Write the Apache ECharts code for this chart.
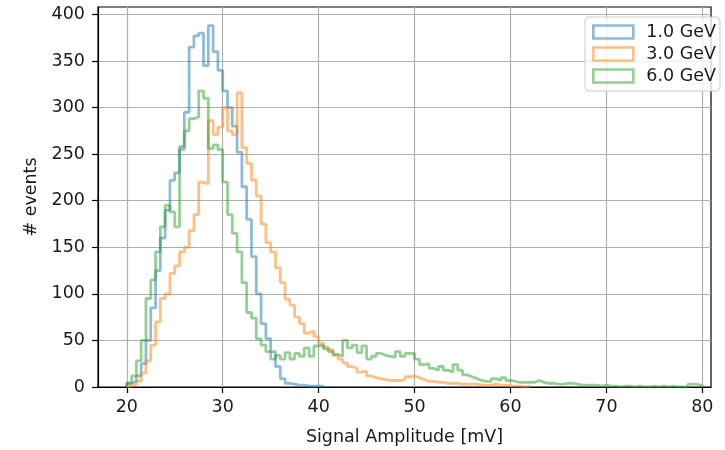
<!DOCTYPE html>
<html><head><meta charset="utf-8">
<script src="https://cdn.jsdelivr.net/npm/echarts@6/dist/echarts.min.js"></script>
<style>html,body{margin:0;padding:0;background:#fff}#c{width:725px;height:450px}</style>
</head><body><div id="c"></div>
<script>
// Histogram bins: start 20 mV, width 0.5 mV (120 bins up to 80 mV)
const binStart = 20;
const binWidth = 0.5;
const seriesNames = ['1.0 GeV', '3.0 GeV', '6.0 GeV'];

const counts1GeV = [
  4,6,12,25,50,85,125,160,190,222,
  230,258,295,365,377,380,345,388,360,340,
  318,300,280,252,215,180,140,100,68,52,
  38,22,9,4,3,2,2,1,1,1,
  1,0,0,0,0,0,0,0,0,0,
  0,0,0,0,0,0,0,0,0,0,
  0,0,0,0,0,0,0,0,0,0,
  0,0,0,0,0,0,0,0,0,0,
  0,0,0,0,0,0,0,0,0,0,
  0,0,0,0,0,0,0,0,0,0,
  0,0,0,0,0,0,0,0,0,0,
  0,0,0,0,0,0,0,0,0,0
];
const counts3GeV = [
  1,3,6,15,28,45,70,95,100,122,
  130,145,150,168,185,220,218,286,271,279,
  300,275,271,316,257,240,222,205,175,155,
  145,128,112,94,88,75,68,58,60,54,
  47,43,40,34,30,26,22,20,16,17,
  12,10,9,8,7,7,7,8,11,12,
  10,8,6,6,5,5,4,4,4,3,
  3,3,3,2,2,2,3,2,2,1,
  1,1,0,1,0,0,0,0,0,0,
  0,0,0,0,0,0,0,0,0,0,
  0,0,0,0,0,0,0,0,0,0,
  0,0,0,0,0,0,0,0,0,0
];
const counts6GeV = [
  4,12,28,50,95,115,145,172,195,188,
  172,255,275,288,290,318,310,256,260,255,
  220,185,165,145,112,80,74,52,45,38,
  30,34,30,37,30,36,33,42,33,44,
  45,41,38,35,33,50,42,45,37,44,
  30,33,36,34,33,32,38,33,36,36,
  30,24,25,20,18,22,18,16,24,18,
  13,11,9,7,6,6,9,7,10,7,
  6,5,5,5,5,7,5,4,4,3,
  3,4,4,3,2,2,2,2,1,2,
  1,1,0,1,1,0,1,0,0,1,
  0,1,0,1,0,0,0,3,3,1
];
const xTicks = [20, 30, 40, 50, 60, 70, 80];
const yTicks = [0, 50, 100, 150, 200, 250, 300, 350, 400];

const colors = ['rgba(31,119,180,0.5)', 'rgba(255,127,14,0.5)', 'rgba(44,160,44,0.5)'];
const allCounts = [counts1GeV, counts3GeV, counts6GeV];

function stepData(counts) {
  let last = counts.length - 1;
  while (last > 0 && counts[last] === 0) last--;
  const pts = [[binStart, 0]];
  for (let i = 0; i <= last; i++) pts.push([binStart + i * binWidth, counts[i]]);
  pts.push([binStart + (last + 1) * binWidth, 0]);
  return pts;
}

const font = 'DejaVu Sans';
const txt = '#1a1a1a';
const fs = 17.5;
const chart = echarts.init(document.getElementById('c'), null, {renderer: 'canvas'});
chart.setOption({
  animation: false,
  grid: {left: 98, right: 14, top: 7, bottom: 63, outerBoundsMode: 'none', containLabel: false,
         show: true, borderColor: '#000', borderWidth: 1.2, backgroundColor: 'transparent'},
  xAxis: {
    type: 'value', min: 17, max: 80.9,
    name: 'Signal Amplitude [mV]', nameLocation: 'middle', nameGap: 41,
    nameTextStyle: {fontSize: fs, fontFamily: font, color: txt},
    axisLine: {show: true, lineStyle: {color: '#000', width: 1.2}},
    axisTick: {show: true, customValues: xTicks, length: 6, lineStyle: {color: '#000', width: 1.2}},
    axisLabel: {customValues: xTicks, fontSize: fs, fontFamily: font, color: txt, margin: 11},
    splitLine: {show: true, lineStyle: {color: '#b0b0b0', width: 1.2}}
  },
  yAxis: {
    type: 'value', min: 0, max: 408,
    name: '# events', nameLocation: 'middle', nameGap: 58, nameRotate: 90,
    nameTextStyle: {fontSize: fs, fontFamily: font, color: txt},
    axisLine: {show: true, lineStyle: {color: '#000', width: 1.2}},
    axisTick: {show: true, customValues: yTicks, length: 6, lineStyle: {color: '#000', width: 1.2}},
    axisLabel: {customValues: yTicks, fontSize: fs, fontFamily: font, color: txt, margin: 13},
    splitLine: {show: true, lineStyle: {color: '#b0b0b0', width: 1.2}}
  },
  legend: {
    orient: 'vertical', right: 5, top: 17,
    itemWidth: 40, itemHeight: 13, itemGap: 4,
    padding: [6, 4, 6, 7],
    backgroundColor: 'rgba(255,255,255,0.8)',
    borderColor: '#cccccc', borderWidth: 1, borderRadius: 4,
    textStyle: {fontSize: fs, fontFamily: font, color: txt, padding: [0, 0, 0, 8]},
    data: seriesNames.map((n, i) => ({
      name: n, icon: 'rect',
      itemStyle: {color: 'rgba(0,0,0,0)', borderColor: colors[i], borderWidth: 2.6}
    }))
  },
  series: seriesNames.map((n, i) => ({
    name: n, type: 'line', step: 'end', showSymbol: false, symbol: 'none',
    data: stepData(allCounts[i]),
    lineStyle: {color: colors[i], width: 2.8},
    itemStyle: {color: colors[i]},
    clip: true
  }))
});
</script>
</body></html>
